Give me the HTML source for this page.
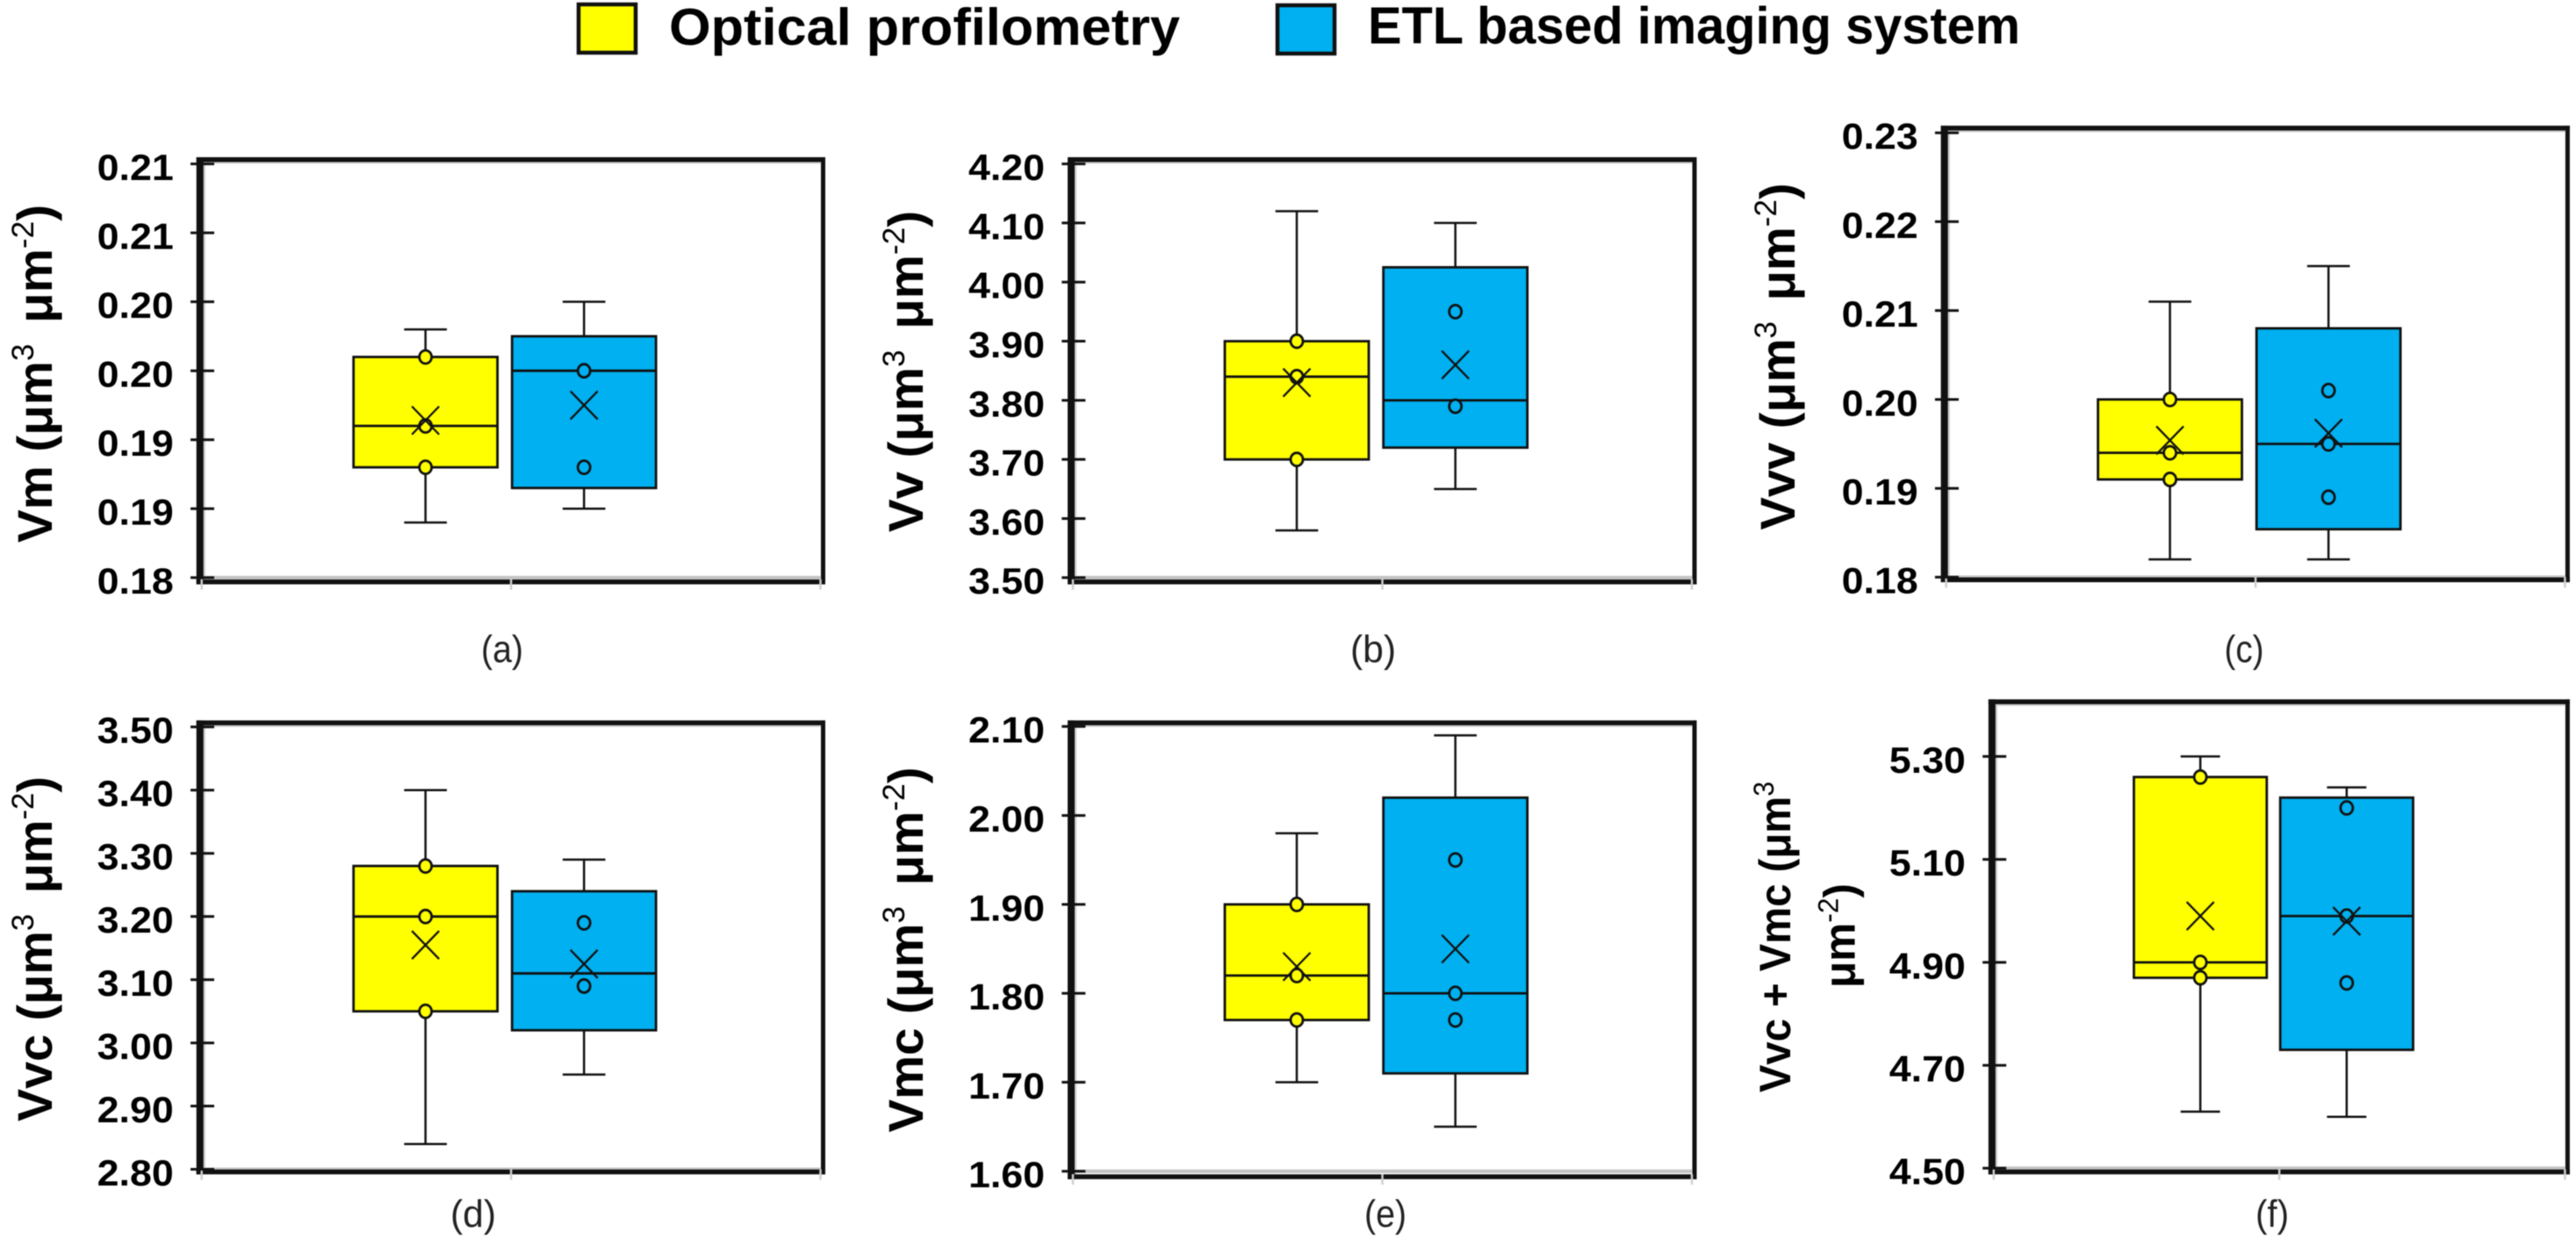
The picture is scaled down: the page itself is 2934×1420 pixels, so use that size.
<!DOCTYPE html>
<html lang="en">
<head>
<meta charset="utf-8">
<title>Optical profilometry vs ETL based imaging system box plots</title>
<style>
html,body{margin:0;padding:0;background:#fff;width:2934px;height:1420px;overflow:hidden}
svg{display:block;filter:blur(0.6px)}
text{font-family:"Liberation Sans",sans-serif;fill:#000}
.b{font-weight:700}
.sup{font-weight:400}
.cap{font-size:44px;fill:#222}
</style>
</head>
<body>
<svg id="chart" width="2934" height="1420" viewBox="0 0 2934 1420" xmlns="http://www.w3.org/2000/svg">
  <rect width="2934" height="1420" fill="#fff"/>
  <g>
    <rect x="659" y="5" width="65" height="55" fill="#ffff00" stroke="#111" stroke-width="4.5"/>
    <text class="b" x="762" y="51" font-size="59" textLength="582" lengthAdjust="spacingAndGlyphs">Optical profilometry</text>
    <rect x="1455" y="6" width="65" height="55" fill="#00b0f0" stroke="#111" stroke-width="4.5"/>
    <text class="b" x="1558" y="49.5" font-size="59" textLength="743" lengthAdjust="spacingAndGlyphs">ETL based imaging system</text>
  </g>

  <g id="panels"></g>

  <g>
    <text class="b" font-size="56" transform="translate(59,618) rotate(-90)" textLength="385" lengthAdjust="spacingAndGlyphs">Vm (μm<tspan class="sup" font-size="35" dy="-21">3</tspan><tspan dy="21" dx="8"> μm</tspan><tspan class="sup" font-size="35" dy="-21">-2</tspan><tspan dy="21">)</tspan></text>
    <text class="b" font-size="56" transform="translate(1051,606) rotate(-90)" textLength="366" lengthAdjust="spacingAndGlyphs">Vv (μm<tspan class="sup" font-size="35" dy="-21">3</tspan><tspan dy="21" dx="8"> μm</tspan><tspan class="sup" font-size="35" dy="-21">-2</tspan><tspan dy="21">)</tspan></text>
    <text class="b" font-size="56" transform="translate(2044,603.5) rotate(-90)" textLength="395" lengthAdjust="spacingAndGlyphs">Vvv (μm<tspan class="sup" font-size="35" dy="-21">3</tspan><tspan dy="21" dx="8"> μm</tspan><tspan class="sup" font-size="35" dy="-21">-2</tspan><tspan dy="21">)</tspan></text>
    <text class="b" font-size="56" transform="translate(59,1277) rotate(-90)" textLength="393" lengthAdjust="spacingAndGlyphs">Vvc (μm<tspan class="sup" font-size="35" dy="-21">3</tspan><tspan dy="21" dx="8"> μm</tspan><tspan class="sup" font-size="35" dy="-21">-2</tspan><tspan dy="21">)</tspan></text>
    <text class="b" font-size="56" transform="translate(1051,1289.5) rotate(-90)" textLength="416" lengthAdjust="spacingAndGlyphs">Vmc (μm<tspan class="sup" font-size="35" dy="-21">3</tspan><tspan dy="21" dx="8"> μm</tspan><tspan class="sup" font-size="35" dy="-21">-2</tspan><tspan dy="21">)</tspan></text>
    <text class="b" font-size="50" transform="translate(2039,1244) rotate(-90)" textLength="354" lengthAdjust="spacingAndGlyphs">Vvc + Vmc (μm<tspan class="sup" font-size="32" dy="-19">3</tspan></text>
    <text class="b" font-size="50" transform="translate(2112.5,1125) rotate(-90)" textLength="119" lengthAdjust="spacingAndGlyphs">μm<tspan class="sup" font-size="32" dy="-19">-2</tspan><tspan dy="19">)</tspan></text>
  </g>

  <g>
    <text class="cap" x="572" y="754" text-anchor="middle" textLength="48" lengthAdjust="spacingAndGlyphs">(a)</text>
    <text class="cap" x="1564" y="754" text-anchor="middle" textLength="52" lengthAdjust="spacingAndGlyphs">(b)</text>
    <text class="cap" x="2556" y="754" text-anchor="middle" textLength="45" lengthAdjust="spacingAndGlyphs">(c)</text>
    <text class="cap" x="539" y="1397" text-anchor="middle" textLength="52" lengthAdjust="spacingAndGlyphs">(d)</text>
    <text class="cap" x="1578" y="1397" text-anchor="middle" textLength="48" lengthAdjust="spacingAndGlyphs">(e)</text>
    <text class="cap" x="2588" y="1397" text-anchor="middle" textLength="38" lengthAdjust="spacingAndGlyphs">(f)</text>
  </g>
</svg>
<script>
// Value order for box arrays: whisker low, Q1, median, Q3, whisker high, mean
const ticksA = [0.18, 0.185, 0.19, 0.195, 0.20, 0.205, 0.21];
const tickLabelsA = ['0.18', '0.19', '0.19', '0.20', '0.20', '0.21', '0.21'];
const opticalA = [0.184, 0.188, 0.191, 0.196, 0.198, 0.1914];
const etlA = [0.185, 0.1865, 0.195, 0.1975, 0.20, 0.1925];
const opticalPointsA = [0.196, 0.191, 0.188];
const etlPointsA = [0.195, 0.188];

const ticksB = [3.5, 3.6, 3.7, 3.8, 3.9, 4.0, 4.1, 4.2];
const tickLabelsB = ['3.50', '3.60', '3.70', '3.80', '3.90', '4.00', '4.10', '4.20'];
const opticalB = [3.58, 3.70, 3.84, 3.90, 4.12, 3.83];
const etlB = [3.65, 3.72, 3.80, 4.025, 4.10, 3.86];
const opticalPointsB = [3.90, 3.84, 3.70];
const etlPointsB = [3.95, 3.79];

const ticksC = [0.18, 0.19, 0.20, 0.21, 0.22, 0.23];
const tickLabelsC = ['0.18', '0.19', '0.20', '0.21', '0.22', '0.23'];
const opticalC = [0.182, 0.191, 0.194, 0.20, 0.211, 0.1954];
const etlC = [0.182, 0.1854, 0.195, 0.208, 0.215, 0.1962];
const opticalPointsC = [0.20, 0.194, 0.191];
const etlPointsC = [0.201, 0.195, 0.189];

const ticksD = [2.8, 2.9, 3.0, 3.1, 3.2, 3.3, 3.4, 3.5];
const tickLabelsD = ['2.80', '2.90', '3.00', '3.10', '3.20', '3.30', '3.40', '3.50'];
const opticalD = [2.84, 3.05, 3.20, 3.28, 3.40, 3.155];
const etlD = [2.95, 3.02, 3.11, 3.24, 3.29, 3.125];
const opticalPointsD = [3.28, 3.20, 3.05];
const etlPointsD = [3.19, 3.09];

const ticksE = [1.6, 1.7, 1.8, 1.9, 2.0, 2.1];
const tickLabelsE = ['1.60', '1.70', '1.80', '1.90', '2.00', '2.10'];
const opticalE = [1.70, 1.77, 1.82, 1.90, 1.98, 1.83];
const etlE = [1.65, 1.71, 1.80, 2.02, 2.09, 1.85];
const opticalPointsE = [1.90, 1.82, 1.77];
const etlPointsE = [1.95, 1.80, 1.77];

const ticksF = [4.5, 4.7, 4.9, 5.1, 5.3];
const tickLabelsF = ['4.50', '4.70', '4.90', '5.10', '5.30'];
const opticalF = [4.61, 4.87, 4.90, 5.26, 5.30, 4.99];
const etlF = [4.60, 4.73, 4.99, 5.22, 5.24, 4.98];
const opticalPointsF = [5.26, 4.90, 4.87];
const etlPointsF = [5.20, 4.99, 4.86];

const seriesColors = ['#ffff00', '#00b0f0'];

const NS = 'http://www.w3.org/2000/svg';
const INK = '#111';

function mk(tag, attrs, parent) {
  const el = document.createElementNS(NS, tag);
  for (const k in attrs) el.setAttribute(k, attrs[k]);
  parent.appendChild(el);
  return el;
}

function linearScale(d0, d1, r0, r1) {
  return function (v) { return r0 + (v - d0) * (r1 - r0) / (d1 - d0); };
}

function drawSeries(g, color, s, points, cx, bw, y, capW) {
  const whisker = mk('line', { x1: cx, x2: cx, y1: y(s[0]), y2: y(s[4]), stroke: INK, 'stroke-width': 2.5 }, g);
  
  

  const capHigh = mk('line', { x1: cx - capW, x2: cx + capW, y1: y(s[4]), y2: y(s[4]), stroke: INK, 'stroke-width': 2.5 }, g);
  
  

  const capLow = mk('line', { x1: cx - capW, x2: cx + capW, y1: y(s[0]), y2: y(s[0]), stroke: INK, 'stroke-width': 2.5 }, g);
  
  

  const box = mk('rect', { x: cx - bw / 2, y: y(s[3]), width: bw, height: y(s[1]) - y(s[3]), fill: color, stroke: INK, 'stroke-width': 2.8 }, g);
  
  

  const median = mk('line', { x1: cx - bw / 2, x2: cx + bw / 2, y1: y(s[2]), y2: y(s[2]), stroke: INK, 'stroke-width': 2.8 }, g);
  
  

  points.forEach(function (p) {
    const dot = mk('ellipse', { cx: cx, cy: y(p), rx: 7, ry: 7.5, fill: color, stroke: INK, 'stroke-width': 2.8 }, g);
    
    
  });

  const m = y(s[5]);
  const meanA = mk('line', { x1: cx - 15.5, x2: cx + 15.5, y1: m - 16, y2: m + 16, stroke: INK, 'stroke-width': 2.3 }, g);
  
  

  const meanB = mk('line', { x1: cx - 15.5, x2: cx + 15.5, y1: m + 16, y2: m - 16, stroke: INK, 'stroke-width': 2.3 }, g);
  
  
}

function drawPanel(name, box, ticks, labels, optical, etl, optPts, etlPts) {
  const root = document.getElementById('panels');
  const g = mk('g', {}, root);
  
  

  const L = box[0], T = box[1], R = box[2], B = box[3], yBottom = box[4], yTop = box[5];
  const y = linearScale(ticks[0], ticks[ticks.length - 1], yBottom, yTop);
  const plotL = L + 2, plotR = R - 3;
  const x = linearScale(0, 1, plotL, plotR);

  const topGlow = mk('line', { x1: plotL, x2: plotR, y1: T + 3.5, y2: T + 3.5, stroke: '#cfcfcf', 'stroke-width': 2.5 }, g);
  
  

  const leftGlow = mk('line', { x1: L + 5, x2: L + 5, y1: T, y2: B, stroke: '#cfcfcf', 'stroke-width': 2.5 }, g);
  
  

  const axis = mk('line', { x1: plotL, x2: plotR, y1: y(ticks[0]), y2: y(ticks[0]), stroke: '#c4c4c4', 'stroke-width': 4 }, g);
  
  

  const frameTop = mk('line', { x1: L - 4, x2: R + 2.5, y1: T, y2: T, stroke: INK, 'stroke-width': 5.5 }, g);
  
  

  const frameBottom = mk('line', { x1: L - 4, x2: R + 2.5, y1: B, y2: B, stroke: INK, 'stroke-width': 5.5 }, g);
  
  

  const frameLeft = mk('line', { x1: L, x2: L, y1: T - 2.7, y2: B + 2.7, stroke: INK, 'stroke-width': 8 }, g);
  
  

  const frameRight = mk('line', { x1: R, x2: R, y1: T - 2.7, y2: B + 2.7, stroke: INK, 'stroke-width': 5 }, g);
  
  

  [0, 0.5, 1].forEach(function (f) {
    const t = mk('line', { x1: x(f), x2: x(f), y1: B - 3, y2: B + 9, stroke: '#cfcfcf', 'stroke-width': 2.5 }, g);
    
    
  });

  ticks.forEach(function (v, i) {
    const t = mk('line', { x1: L - 10.7, x2: L + 16.3, y1: y(v), y2: y(v), stroke: INK, 'stroke-width': 3 }, g);
    
    

    const lab = mk('text', {
      x: L - 117, y: y(v) + 18.4, class: 'b', 'font-size': 42,
      textLength: 87, lengthAdjust: 'spacingAndGlyphs'
    }, g);
    lab.textContent = labels[i];
    
    
  });

  const w = plotR - plotL;
  const bw = w * 0.2326;
  const capW = w * 0.0345;

  const gOpt = mk('g', {}, g);
  
  
  drawSeries(gOpt, seriesColors[0], optical, optPts, x(0.3617), bw, y, capW);

  const gEtl = mk('g', {}, g);
  
  
  drawSeries(gEtl, seriesColors[1], etl, etlPts, x(0.6179), bw, y, capW);
}

// Panel frame geometry: left, top, right, bottom, y of lowest tick, y of highest tick
drawPanel('panel-a-vm', [227.7, 181.8, 937.5, 662.6, 657.8, 186.6], ticksA, tickLabelsA, opticalA, etlA, opticalPointsA, etlPointsA);
drawPanel('panel-b-vv', [1220, 181.8, 1930, 662.6, 657.8, 186.6], ticksB, tickLabelsB, opticalB, etlB, opticalPointsB, etlPointsB);
drawPanel('panel-c-vvv', [2214.6, 145.9, 2924.4, 660.2, 657.3, 151.2], ticksC, tickLabelsC, opticalC, etlC, opticalPointsC, etlPointsC);
drawPanel('panel-d-vvc', [227.7, 823.1, 937.5, 1334.5, 1331.5, 827.8], ticksD, tickLabelsD, opticalD, etlD, opticalPointsD, etlPointsD);
drawPanel('panel-e-vmc', [1220, 823.1, 1930, 1340, 1333.7, 827.3], ticksE, tickLabelsE, opticalE, etlE, opticalPointsE, etlPointsE);
drawPanel('panel-f-vvc-vmc', [2268.8, 799.1, 2924.4, 1334.5, 1330.3, 861.4], ticksF, tickLabelsF, opticalF, etlF, opticalPointsF, etlPointsF);
</script>
</body>
</html>
